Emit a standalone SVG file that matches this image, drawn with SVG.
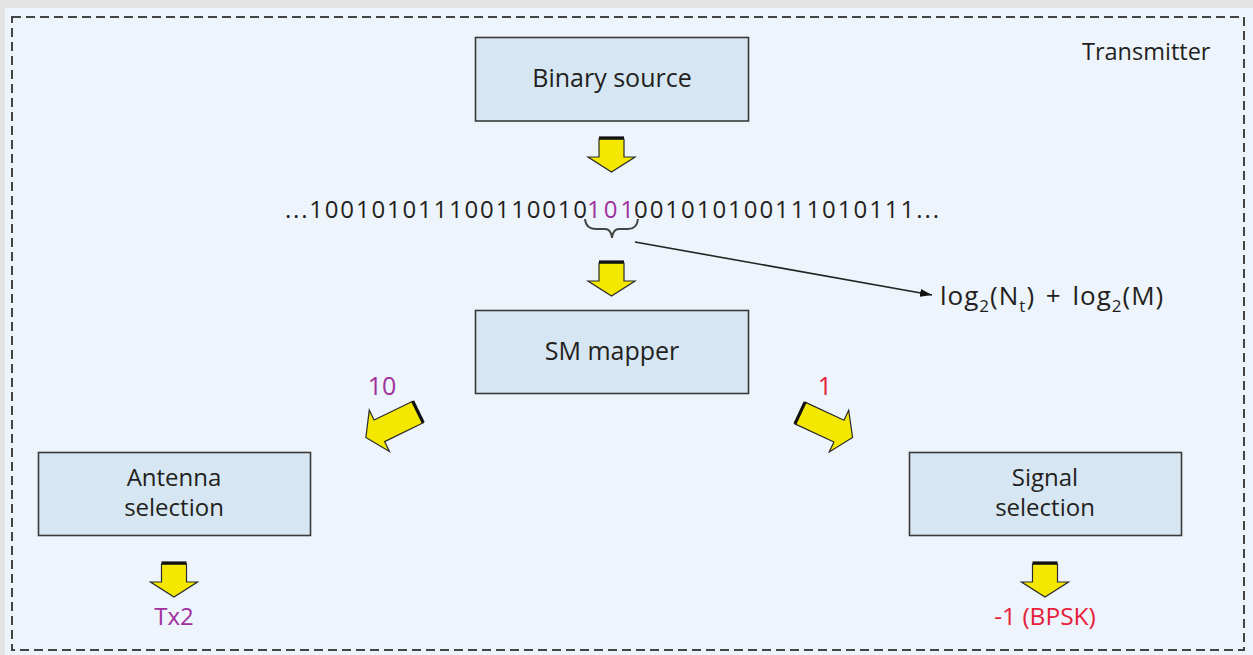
<svg xmlns="http://www.w3.org/2000/svg" width="1253" height="655" viewBox="0 0 1253 655">
<style>
.t{font-family:"Open Sans","Noto Sans","DejaVu Sans",sans-serif;fill:#231f20;}
.lbl{font-size:25px;text-anchor:middle;}
.lbl2{font-size:24px;text-anchor:middle;}
.box{fill:#d6e6f2;stroke:#3a3a3a;stroke-width:1.6;}
.ya{fill:#f5e800;stroke:#2a2a2a;stroke-width:1.2;stroke-linejoin:miter;}
.bar{stroke:#111;stroke-width:3.2;}
.pur{fill:#a0309e;}
.red{fill:#e8203c;}
.sub{font-size:17px;}
</style>
<defs>
<path id="down" class="ya" d="M-12.5,0 H12.5 V18 H23.5 L0,33 L-23.5,18 H-12.5 Z"/>
<path id="diag" class="ya" d="M-12,0 H12 V43 H23 L0,58 L-23,43 H-12 Z"/>
<marker id="ah" viewBox="0 0 12 8" refX="12" refY="4" markerWidth="12" markerHeight="8" markerUnits="userSpaceOnUse" orient="auto">
<path d="M0,0 L12,4 L0,8 Z" fill="#111"/>
</marker>
</defs>
<rect x="0" y="0" width="1253" height="655" fill="#e4e4e4"/>
<rect x="5" y="8" width="1248" height="647" fill="#edf4fb"/>
<rect x="12" y="17" width="1232" height="633" fill="none" stroke="#444" stroke-width="2" stroke-dasharray="9 5"/>
<text class="t" x="1082" y="60" font-size="23.5">Transmitter</text>

<g id="binary-source">
<rect class="box" x="475.5" y="37.5" width="273" height="83.5"/>
<text class="t lbl" x="612" y="87">Binary source</text>
</g>

<g id="bitstream">
<text class="t" x="285" y="218" font-size="24" textLength="302" lengthAdjust="spacing">...100101011100110010</text>
<text class="t pur" x="587" y="218" font-size="24" textLength="47" lengthAdjust="spacing">101</text>
<text class="t" x="634" y="218" font-size="24" textLength="305" lengthAdjust="spacing">001010100111010111...</text>
<path d="M585,219 Q586,229 596,229 H605 Q611,229 612,238 Q613,229 619,229 H628 Q637,229 638,219" fill="none" stroke="#444" stroke-width="2"/>
</g>

<g id="bits-label">
<text class="t" x="940" y="305" font-size="26" letter-spacing="1">log<tspan class="sub" dy="7">2</tspan><tspan dy="-7">(N</tspan><tspan class="sub" dy="7">t</tspan><tspan dy="-7">) </tspan><tspan dx="3">+ </tspan><tspan dx="3">log</tspan><tspan class="sub" dy="7">2</tspan><tspan dy="-7">(M)</tspan></text>
</g>

<g id="sm-mapper">
<rect class="box" x="475.5" y="310.5" width="273" height="83"/>
<text class="t lbl" x="612" y="360">SM mapper</text>
</g>

<g id="antenna-selection">
<rect class="box" x="38.5" y="452.5" width="272" height="83"/>
<text class="t lbl2" x="174" y="486">Antenna</text>
<text class="t lbl2" x="174" y="516">selection</text>
</g>

<g id="signal-selection">
<rect class="box" x="909.5" y="452.5" width="272" height="83"/>
<text class="t lbl2" x="1045" y="486">Signal</text>
<text class="t lbl2" x="1045" y="516">selection</text>
</g>

<g id="label-10"><text class="t lbl pur" x="382" y="395">10</text></g>
<g id="label-1"><text class="t lbl red" x="825" y="395">1</text></g>
<g id="out-tx2"><text class="t pur" x="174" y="625" font-size="24" text-anchor="middle">Tx2</text></g>
<g id="out-bpsk"><text class="t red" x="1045" y="625" font-size="24.5" text-anchor="middle">-1 (BPSK)</text></g>

<g id="connectors">
<g transform="translate(611.5,139)"><use href="#down"/><line class="bar" x1="-12.5" y1="-1" x2="12.5" y2="-1"/></g>
<g transform="translate(611.5,263)"><use href="#down"/><line class="bar" x1="-12.5" y1="-1" x2="12.5" y2="-1"/></g>
<g transform="translate(174,564)"><use href="#down"/><line class="bar" x1="-12.5" y1="-1" x2="12.5" y2="-1"/></g>
<g transform="translate(1045,564)"><use href="#down"/><line class="bar" x1="-12.5" y1="-1" x2="12.5" y2="-1"/></g>
<g transform="translate(418,412) rotate(64)"><use href="#diag"/><line class="bar" x1="-12" y1="0" x2="12" y2="0"/></g>
<g transform="translate(800,413) rotate(-65)"><use href="#diag"/><line class="bar" x1="-12" y1="0" x2="12" y2="0"/></g>
<line x1="635" y1="242" x2="932" y2="295" stroke="#222" stroke-width="1.6" marker-end="url(#ah)"/>
</g>
</svg>
